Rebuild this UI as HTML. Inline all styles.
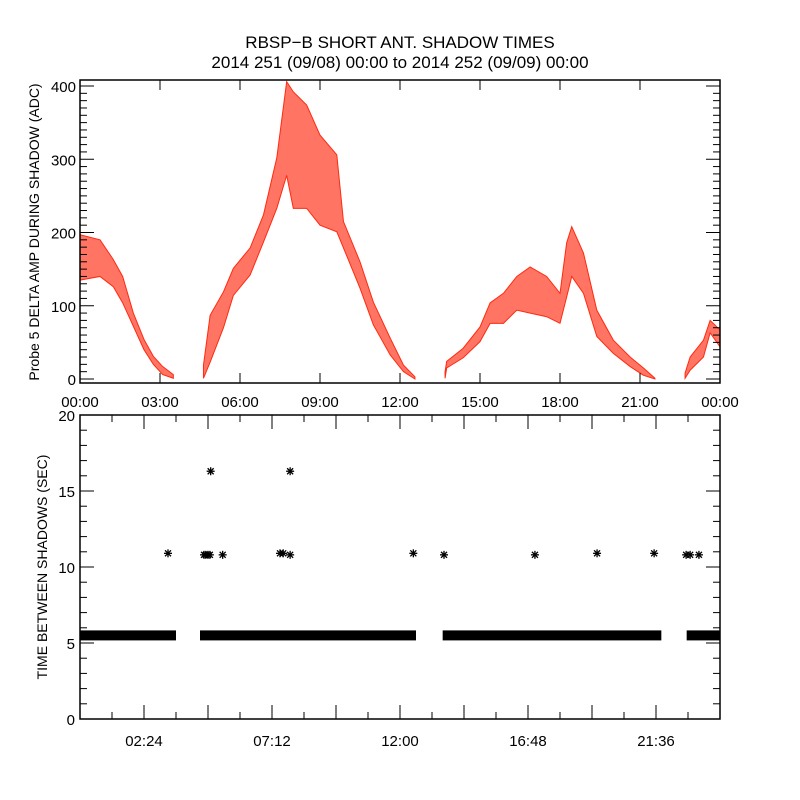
<!DOCTYPE html>
<html><head><meta charset="utf-8"><style>
body{margin:0;background:#fff}
svg{display:block;font-family:"Liberation Sans",sans-serif}
text{fill:#000}
</style></head><body>
<svg id="chart" width="800" height="800" xmlns="http://www.w3.org/2000/svg">
<rect width="800" height="800" fill="#fff"/>
<text x="400" y="48" font-size="17" text-anchor="middle">RBSP−B SHORT ANT. SHADOW TIMES</text>
<text x="400" y="68" font-size="17" text-anchor="middle">2014 251 (09/08) 00:00 to 2014 252 (09/09) 00:00</text>
<g id="topPanel"></g>
<g id="botPanel"></g>
</svg>
<script>
// Top panel data: segments of [hour, low, high]
const seg1Hours=[0,0.75,1.25,1.6,2.0,2.4,2.75,3.1,3.5];
const seg1Low=[135,140,126,104,72,40,20,6,1];
const seg1High=[197,190,163,140,90,54,31,17,6];
const seg2Hours=[4.63,4.88,5.38,5.75,6.38,6.88,7.38,7.75,8.0,8.5,9.0,9.63,9.88,10.5,11.0,11.63,12.13,12.56];
const seg2Low=[1,23,70,114,142,187,233,278,233,233,210,201,179,124,74,33,10,0];
const seg2High=[19,87,119,151,179,224,302,406,392,374,333,306,215,160,105,56,19,3];
const seg3Hours=[13.69,13.75,14.37,15.0,15.38,15.88,16.38,16.88,17.5,18.0,18.25,18.44,18.88,19.38,20.0,20.63,21.13,21.56];
const seg3Low=[1,15,29,51,76,76,94,90,85,76,112,140,117,58,35,17,5,0];
const seg3High=[10,24,42,71,104,117,140,153,140,117,186,208,172,94,53,30,15,1];
const seg4Hours=[22.69,22.88,23.38,23.63,24];
const seg4Low=[1,12,30,63,44];
const seg4High=[8,30,53,80,67];
const topTickLabels=["00:00","03:00","06:00","09:00","12:00","15:00","18:00","21:00","00:00"];
const topYTicks=[0,100,200,300,400];
// Bottom panel data
const bandStarts=[0,4.5,13.6,22.75];
const bandEnds=[3.6,12.6,21.8,24];
const bandValue=[5.5,5.5,5.5,5.5];
const starHours=[3.3,4.65,4.72,4.8,4.87,4.9,5.35,7.5,7.62,7.88,7.88,12.5,13.65,17.06,19.39,21.53,22.73,22.88,23.21];
const starValues=[10.9,10.8,10.8,10.8,10.8,16.3,10.8,10.9,10.9,16.3,10.8,10.9,10.8,10.8,10.9,10.9,10.8,10.8,10.8];
const botTickLabels=["02:24","07:12","12:00","16:48","21:36"];
const botYTicks=[0,5,10,15,20];

const NS="http://www.w3.org/2000/svg";
function mk(p,t,a){const e=document.createElementNS(NS,t);for(const k in a)e.setAttribute(k,a[k]);p.appendChild(e);return e;}
const L=80,R=720;
const xh=h=>L+h*(R-L)/24;
const tT=80,tB=383;
const yT=v=>379-v*0.7325;
const topG=document.getElementById('topPanel');
const segs=[[seg1Hours,seg1Low,seg1High],[seg2Hours,seg2Low,seg2High],[seg3Hours,seg3Low,seg3High],[seg4Hours,seg4Low,seg4High]];
segs.forEach((s,i)=>{
  const [hs,lo,hi]=s;
  let pts=hs.map((h,j)=>xh(h)+','+yT(hi[j]));
  for(let j=hs.length-1;j>=0;j--)pts.push(xh(hs[j])+','+yT(lo[j]));
  const p=mk(topG,'polygon',{points:pts.join(' '),fill:'#ff2a10','fill-opacity':'0.65',stroke:'#ff2a10','stroke-width':'1'});
  
  
});
const tbox=mk(topG,'rect',{x:L,y:tT,width:R-L,height:tB-tT,fill:'none',stroke:'#000','stroke-width':'1.5'});


for(let v=0;v<=400;v+=10){
  const len=v%100===0?14:7;
  mk(topG,'line',{x1:L,x2:L+len,y1:yT(v),y2:yT(v),stroke:'#000'});
  mk(topG,'line',{x1:R,x2:R-len,y1:yT(v),y2:yT(v),stroke:'#000'});
}
topYTicks.forEach(v=>{
  const t=mk(topG,'text',{x:L-4,y:yT(v)+6,'font-size':'15','text-anchor':'end'});t.textContent=v;
  
  
});
topTickLabels.forEach((s,i)=>{
  const x=xh(i*3);
  mk(topG,'line',{x1:x,x2:x,y1:tB,y2:tB-10,stroke:'#000'});
  mk(topG,'line',{x1:x,x2:x,y1:tT,y2:tT+10,stroke:'#000'});
  const t=mk(topG,'text',{x:x,y:407,'font-size':'15','text-anchor':'middle'});t.textContent=s;
  
  
});
const ytl=mk(topG,'text',{x:0,y:0,'font-size':'14','text-anchor':'middle',transform:'translate(39,232) rotate(-90)'});
ytl.textContent='Probe 5 DELTA AMP DURING SHADOW (ADC)';



const bT=415,bBm=719;
const yB=v=>bBm-v*(bBm-bT)/20;
const botG=document.getElementById('botPanel');
bandStarts.forEach((s,i)=>{
  const r=mk(botG,'rect',{x:xh(s),y:yB(bandValue[i])-5,width:xh(bandEnds[i])-xh(s),height:10,fill:'#000'});
  
  
});
starHours.forEach((h,i)=>{
  const cx=xh(h),cy=yB(starValues[i]);
  const g=mk(botG,'g',{stroke:'#000','stroke-width':'1.3'});
  
  
  mk(g,'line',{x1:cx-4,x2:cx+4,y1:cy,y2:cy});
  mk(g,'line',{x1:cx,x2:cx,y1:cy-4,y2:cy+4});
  mk(g,'line',{x1:cx-3,x2:cx+3,y1:cy-3,y2:cy+3});
  mk(g,'line',{x1:cx-3,x2:cx+3,y1:cy+3,y2:cy-3});
});
const bbox=mk(botG,'rect',{x:L,y:bT,width:R-L,height:bBm-bT,fill:'none',stroke:'#000','stroke-width':'1.5'});


for(let v=0;v<=20;v++){
  const len=v%5===0?14:7;
  mk(botG,'line',{x1:L,x2:L+len,y1:yB(v),y2:yB(v),stroke:'#000'});
  mk(botG,'line',{x1:R,x2:R-len,y1:yB(v),y2:yB(v),stroke:'#000'});
}
botYTicks.forEach(v=>{
  const t=mk(botG,'text',{x:L-5,y:yB(v)+6,'font-size':'15','text-anchor':'end'});t.textContent=v;
  
  
});
for(let k=0;k<=20;k++){
  const x=xh(k*1.2);const len=k%2===0?14:7;
  mk(botG,'line',{x1:x,x2:x,y1:bBm,y2:bBm-len,stroke:'#000'});
  mk(botG,'line',{x1:x,x2:x,y1:bT,y2:bT+len,stroke:'#000'});
}
botTickLabels.forEach((s,i)=>{
  const t=mk(botG,'text',{x:xh(2.4+i*4.8),y:746,'font-size':'15','text-anchor':'middle'});t.textContent=s;
  
  
});
const ybl=mk(botG,'text',{x:0,y:0,'font-size':'14','text-anchor':'middle',transform:'translate(47,567) rotate(-90)'});
ybl.textContent='TIME BETWEEN SHADOWS (SEC)';


</script>
</body></html>
